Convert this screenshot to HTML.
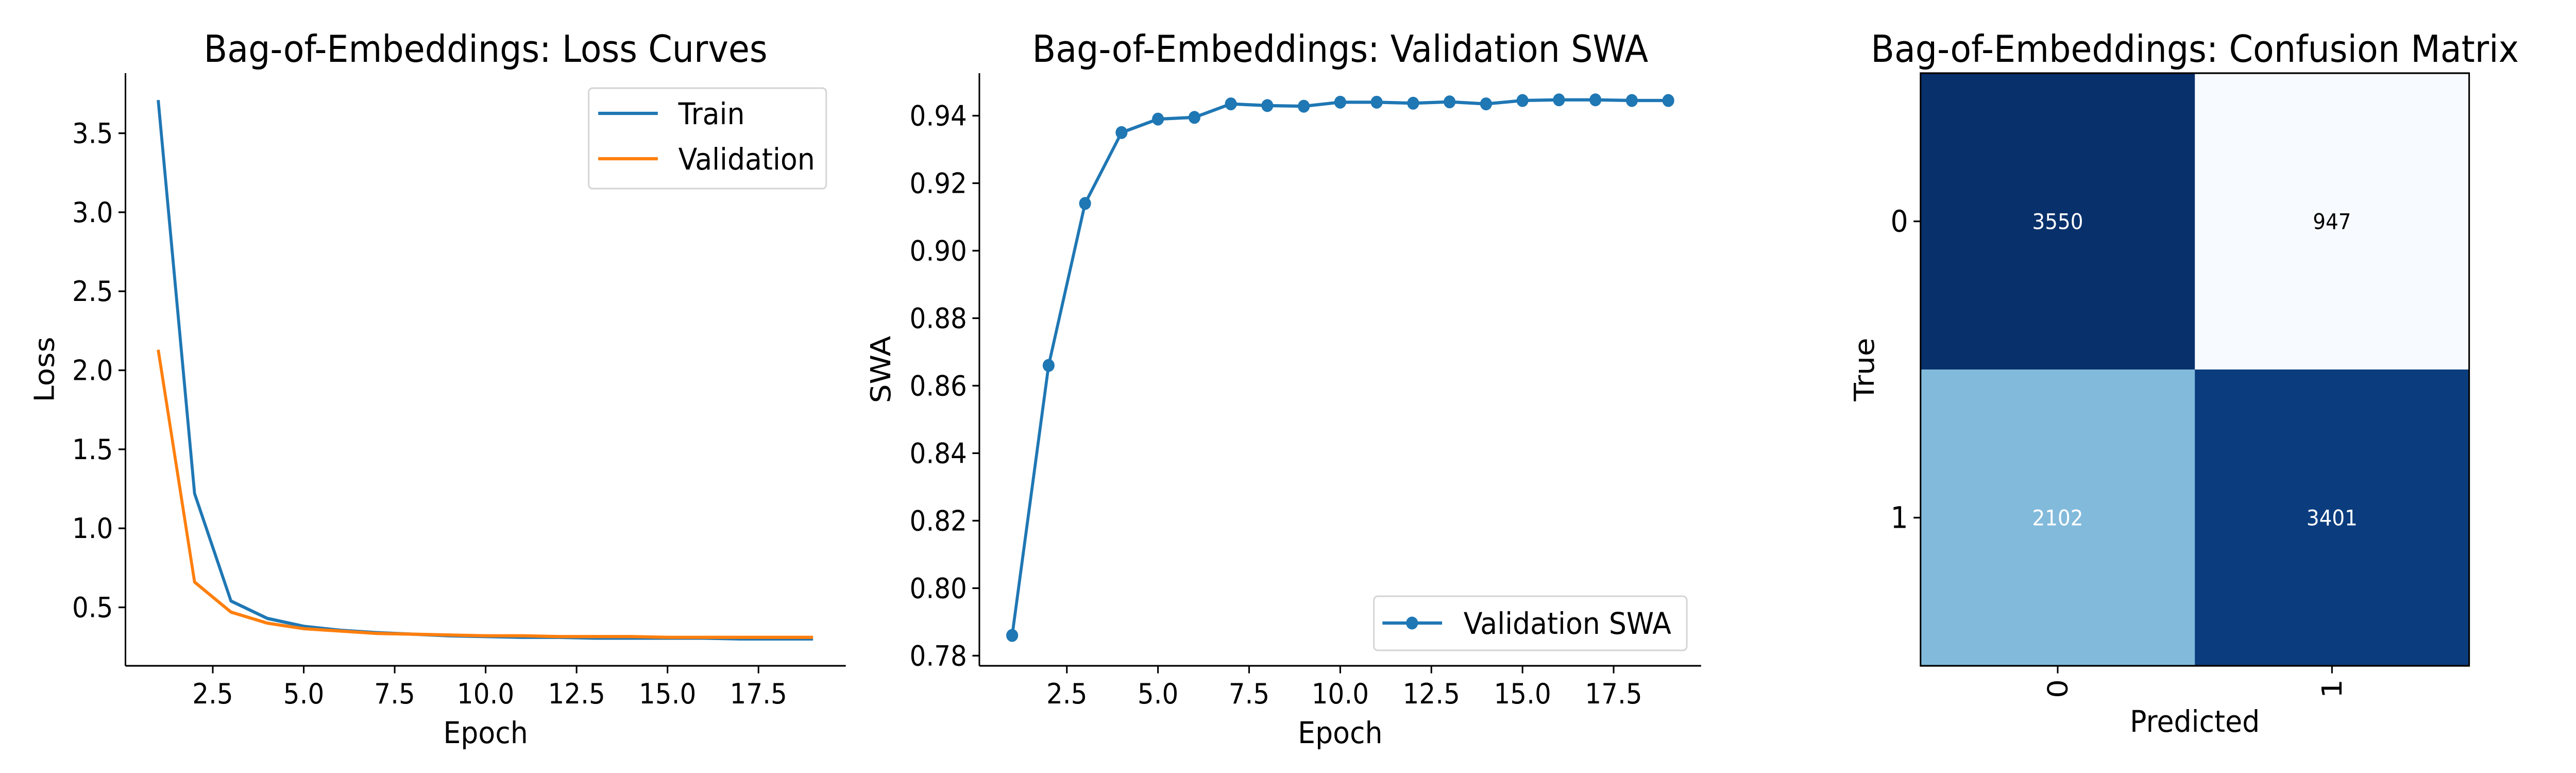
<!DOCTYPE html>
<html><head><meta charset="utf-8"><style>
html,body{margin:0;padding:0;background:#fff;overflow:hidden;width:100%;height:100%;}
svg{display:block;position:absolute;left:0;top:0;width:100vw;height:100vh;font-family:"DejaVu Sans","Liberation Sans",sans-serif;}
</style></head><body>
<svg id="fig" viewBox="0 0 5400 1500" preserveAspectRatio="none" xmlns="http://www.w3.org/2000/svg">
<g id="p1"></g>
<g id="p2"></g>
<g id="p3"></g>
</svg>
<script>
const epochs = [1,2,3,4,5,6,7,8,9,10,11,12,13,14,15,16,17,18,19];
const trainLoss = [3.71,1.22,0.54,0.43,0.38,0.355,0.34,0.33,0.32,0.315,0.31,0.31,0.305,0.305,0.305,0.305,0.30,0.30,0.30];
const valLoss = [2.13,0.66,0.47,0.40,0.365,0.35,0.335,0.33,0.325,0.32,0.32,0.315,0.315,0.315,0.31,0.31,0.31,0.31,0.31];
const valSWA = [0.786,0.866,0.914,0.935,0.939,0.9395,0.9435,0.943,0.9428,0.944,0.944,0.9437,0.9441,0.9435,0.9445,0.9447,0.9447,0.9445,0.9445];
const xTicks = [2.5,5.0,7.5,10.0,12.5,15.0,17.5];
const lossTicks = [0.5,1.0,1.5,2.0,2.5,3.0,3.5];
const swaTicks = [0.78,0.80,0.82,0.84,0.86,0.88,0.90,0.92,0.94];
const cmLabels = ["0","1"];
const cmValues = [[3550,947],[2102,3401]];
const cmColors = [["#08306b","#f7fbff"],["#82badb","#0b3d7e"]];
const cmTextColors = [["#ffffff","#000000"],["#ffffff","#ffffff"]];

const NS="http://www.w3.org/2000/svg";
function mk(parent,tag,attrs,text){const e=document.createElementNS(NS,tag);for(const k in attrs)e.setAttribute(k,attrs[k]);if(text!==undefined)e.textContent=text;parent.appendChild(e);return e;}
function lin(d0,d1,r0,r1){return v=>r0+(v-d0)*(r1-r0)/(d1-d0);}
const TITLE_FS=72;

function lineAxes(g,L,R,T,B,xs,ys,yTicks,fmt,title,ylabel,ylabX){
  let e=mk(g,'line',{x1:L,y1:T,x2:L,y2:B,stroke:'#000','stroke-width':3.3});
  
  e=mk(g,'line',{x1:L,y1:B,x2:R,y2:B,stroke:'#000','stroke-width':3.3});
  
  xTicks.forEach(t=>{const x=xs(t);
    mk(g,'line',{x1:x,y1:B,x2:x,y2:B+14.6,stroke:'#000','stroke-width':3.3});
    const tx=mk(g,'text',{x:x,y:B+73,'font-size':54,'text-anchor':'middle'},t.toFixed(1));
    });
  yTicks.forEach(t=>{const y=ys(t);
    mk(g,'line',{x1:L,y1:y,x2:L-14.6,y2:y,stroke:'#000','stroke-width':3.3});
    const tx=mk(g,'text',{x:L-26,y:y+19,'font-size':54,'text-anchor':'end'},t.toFixed(fmt));
    });
  let t=mk(g,'text',{x:(L+R)/2,y:120,'font-size':TITLE_FS,'text-anchor':'middle'},title);
  
  t=mk(g,'text',{x:(L+R)/2,y:1442,'font-size':58,'text-anchor':'middle'},'Epoch');
  
  t=mk(g,'text',{x:0,y:0,'font-size':58,'text-anchor':'middle',transform:`translate(${ylabX},${(T+B)/2}) rotate(-90)`},ylabel);
  
}

(function(){
  const g=document.getElementById('p1');
  const L=263,R=1773,T=142,B=1292;
  const xs=lin(0.1,19.9,L,R), ys=lin(0.13,3.88,B,T);
  lineAxes(g,L,R,T,B,xs,ys,lossTicks,1,'Bag-of-Embeddings: Loss Curves','Loss',113);
  let p=mk(g,'polyline',{points:epochs.map((e,i)=>xs(e)+','+ys(trainLoss[i])).join(' '),fill:'none',stroke:'#1f77b4','stroke-width':6.25,'stroke-linejoin':'round'});
  
  p=mk(g,'polyline',{points:epochs.map((e,i)=>xs(e)+','+ys(valLoss[i])).join(' '),fill:'none',stroke:'#ff7f0e','stroke-width':6.25,'stroke-linejoin':'round'});
  
  const lg=mk(g,'g',{});
  
  mk(lg,'rect',{x:1234,y:171,width:498,height:195,rx:8,fill:'#fff',stroke:'#d6d6d6','stroke-width':3.3});
  mk(lg,'line',{x1:1254,y1:220,x2:1379,y2:220,stroke:'#1f77b4','stroke-width':6.25});
  let t=mk(lg,'text',{x:1422,y:241,'font-size':58},'Train');
  
  mk(lg,'line',{x1:1254,y1:308,x2:1379,y2:308,stroke:'#ff7f0e','stroke-width':6.25});
  t=mk(lg,'text',{x:1422,y:329,'font-size':58},'Validation');
  
})();

(function(){
  const g=document.getElementById('p2');
  const L=2053,R=3566,T=142,B=1292;
  const xs=lin(0.1,19.9,L,R), ys=lin(0.7770,0.9526,B,T);
  lineAxes(g,L,R,T,B,xs,ys,swaTicks,2,'Bag-of-Embeddings: Validation SWA','SWA',1866);
  let p=mk(g,'polyline',{points:epochs.map((e,i)=>xs(e)+','+ys(valSWA[i])).join(' '),fill:'none',stroke:'#1f77b4','stroke-width':6.25,'stroke-linejoin':'round'});
  
  epochs.forEach((e,i)=>{const c=mk(g,'circle',{cx:xs(e),cy:ys(valSWA[i]),r:12.5,fill:'#1f77b4'});
    });
  const lg=mk(g,'g',{});
  
  mk(lg,'rect',{x:2880,y:1157,width:656,height:105,rx:8,fill:'#fff',stroke:'#d6d6d6','stroke-width':3.3});
  mk(lg,'line',{x1:2898,y1:1209,x2:3023,y2:1209,stroke:'#1f77b4','stroke-width':6.25});
  mk(lg,'circle',{cx:2960,cy:1209,r:12.5,fill:'#1f77b4'});
  let t=mk(lg,'text',{x:3068,y:1230,'font-size':58},'Validation SWA');
  
})();

(function(){
  const g=document.getElementById('p3');
  const L=4026,R=5176,T=142,B=1292;
  const cw=(R-L)/cmLabels.length, ch=(B-T)/cmLabels.length;
  cmValues.forEach((row,i)=>row.forEach((v,j)=>{
    const r=mk(g,'rect',{x:L+j*cw,y:T+i*ch,width:cw+0.5,height:ch+0.5,fill:cmColors[i][j]});
    
    const t=mk(g,'text',{x:L+(j+0.5)*cw,y:T+(i+0.5)*ch+15,'font-size':42,'text-anchor':'middle',fill:cmTextColors[i][j]},String(v));
    
  }));
  mk(g,'rect',{x:L,y:T,width:R-L,height:B-T,fill:'none',stroke:'#000','stroke-width':3.3});
  cmLabels.forEach((lab,i)=>{
    const y=T+(i+0.5)*ch;
    mk(g,'line',{x1:L,y1:y,x2:L-14.6,y2:y,stroke:'#000','stroke-width':3.3});
    let t=mk(g,'text',{x:L-26,y:y+20,'font-size':58,'text-anchor':'end'},lab);
    
    const x=L+(i+0.5)*cw;
    mk(g,'line',{x1:x,y1:B,x2:x,y2:B+14.6,stroke:'#000','stroke-width':3.3});
    t=mk(g,'text',{x:0,y:0,'font-size':58,'text-anchor':'end',transform:`translate(${x+20},${B+26}) rotate(-90)`},lab);
    
  });
  let t=mk(g,'text',{x:(L+R)/2,y:120,'font-size':TITLE_FS,'text-anchor':'middle'},'Bag-of-Embeddings: Confusion Matrix');
  
  t=mk(g,'text',{x:(L+R)/2,y:1420,'font-size':58,'text-anchor':'middle'},'Predicted');
  
  t=mk(g,'text',{x:0,y:0,'font-size':58,'text-anchor':'middle',transform:`translate(3928,${(T+B)/2}) rotate(-90)`},'True');
  
})();
</script>
</body></html>
